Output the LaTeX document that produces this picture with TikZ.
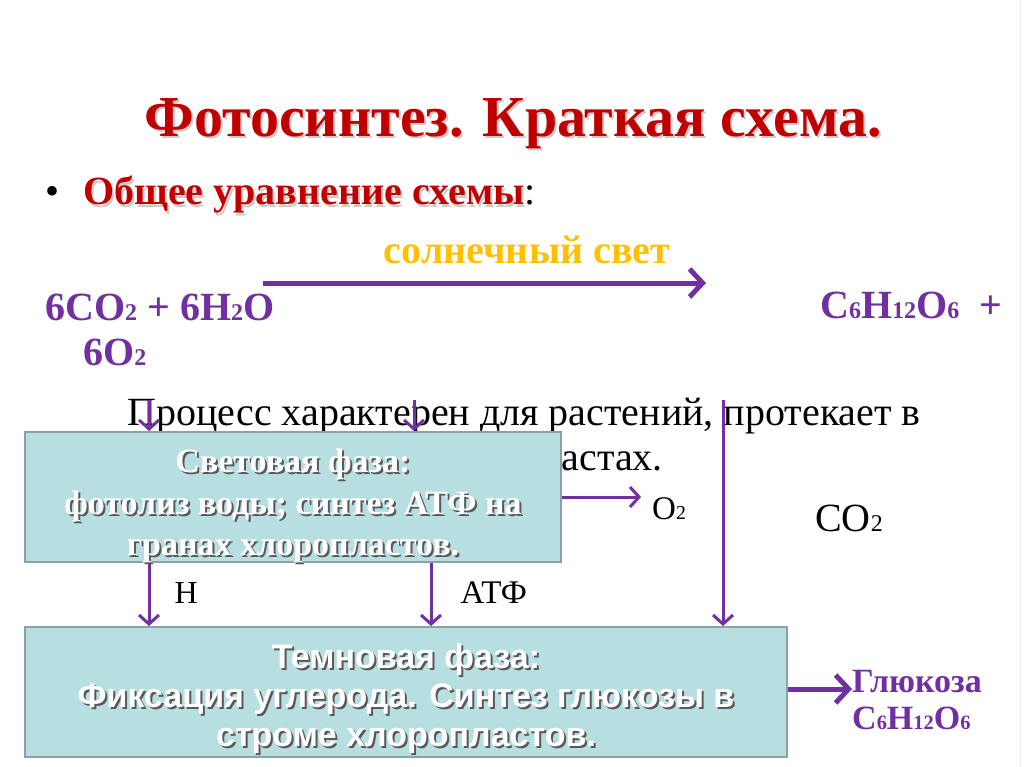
\documentclass[tikz,border=0pt]{standalone}
\usepackage{fontspec}
\setmainfont{Liberation Serif}
\newfontfamily\arialfont{Liberation Sans}
\usetikzlibrary{arrows.meta}
\definecolor{titlered}{RGB}{192,0,0}
\definecolor{eqpurple}{RGB}{112,48,160}
\definecolor{sungold}{RGB}{255,192,0}
\definecolor{phasefill}{RGB}{183,222,225}
\definecolor{phaseedge}{RGB}{140,160,165}
\newcommand\ix[1]{\scalebox{0.6}{#1}}
\newcommand\shd[2]{\leavevmode\rlap{\kern2pt\raisebox{-2pt}{\color{#1}#2}}#2}
\newcommand\fs[1]{\fontsize{#1}{1.2\dimexpr#1pt\relax}\selectfont}
\tikzset{
  arr/.style={draw=eqpurple,line width=3pt,-{Straight Barb[length=9pt,width=20pt]}},
  bigarr/.style={draw=eqpurple,line width=5pt,-{Straight Barb[length=13pt,width=28pt]}},
  eq/.style={text=eqpurple,font=\fs{40}\bfseries,inner sep=0pt,anchor=base west},
  plain/.style={font=\fs{40},inner sep=0pt},
  phase/.style={draw=phaseedge,line width=2pt,fill=phasefill,inner sep=0pt},
  phasetext/.style={align=center,text=white,inner sep=0pt},
}
\begin{document}
\begin{tikzpicture}[x=1pt,y=-1pt]
\useasboundingbox (0,0) rectangle (1024,767);
\draw[gray!15] (1020,0)--(1020,767);
\node[text=titlered,font=\fs{58}\bfseries,inner sep=0pt,anchor=base] (title) at (513,137){\shd{gray!40}{Фотосинтез. Краткая схема.}};
\node[inner sep=0pt,anchor=base west] (dot) at (45,205){\fs{40}•};
\node[text=titlered,font=\fs{40}\bfseries,inner sep=0pt,anchor=base west] (general) at (83,205){\shd{gray!40}{Общее уравнение схемы}{\color{black}\mdseries:}};
\node[text=sungold,font=\fs{40}\bfseries,inner sep=0pt,anchor=base] (sun) at (527,263){солнечный свет};
\coordinate (sunL) at (263,283); \coordinate (sunR) at (706,283);
\draw[bigarr] (sunL)--(sunR);
\node[eq] (react) at (45,320){6CO\ix2 + 6H\ix2O};
\node[eq] (oxy) at (83,365){6O\ix2};
\node[eq] (prod) at (820,318){C\ix6H\ix{12}O\ix6 \ +};
% process text, partly hidden
\node[plain,anchor=base] (proc) at (524,425){Процесс характерен для растений, протекает в};
\node[plain,anchor=base east] (proc2) at (663,470){хлоропластах.};
\node[phase,minimum width=536pt,minimum height=130pt] (light) at (293,497){};
\node[phasetext,font=\fs{34}\bfseries] (lighttxt) at ([yshift=-10pt]light.center)
  {\shd{gray!70!black}{Световая фаза:}\\[1pt]\shd{gray!70!black}{фотолиз воды; синтез АТФ на}\\[1pt]\shd{gray!70!black}{гранах хлоропластов.}};
\node[phase,minimum width=762pt,minimum height=130pt] (dark) at (406,692){};
\node[phasetext,font=\fs{34}\arialfont\bfseries] (darktxt) at ([yshift=-8pt]dark.center)
  {\shd{gray!70!black}{Темновая фаза:}\\[-2pt]\shd{gray!70!black}{Фиксация углерода. Синтез глюкозы в}\\[-2pt]\shd{gray!70!black}{строме хлоропластов.}};
\coordinate (inH) at (149,400); \coordinate (inA) at (414,400); \coordinate (inC) at (723,400);
\draw[arr] (inH)--(inH |- light.north);
\draw[arr] (inA)--(inA |- light.north);
\draw[arr] (inC)--(inC |- dark.north);
\coordinate (hx) at (149,0); \coordinate (ax) at (431,0);
\draw[arr] (hx |- light.south)--(hx |- dark.north) node[pos=.47,right=24pt,font=\fs{32},text=black,inner sep=0pt] (hyd){Н};
\draw[arr] (ax |- light.south)--(ax |- dark.north) node[pos=.47,right=28pt,font=\fs{33},text=black,inner sep=0pt] (atp){АТФ};
\node[font=\fs{33},inner sep=0pt,anchor=base west] (o2) at (652,519){O\ix2};
\coordinate (o2tip) at (641,497);
\draw[arr] (light.east |- o2tip)--(o2tip);
\node[font=\fs{40},inner sep=0pt,anchor=base west] (co2) at (815,531){CO\ix2};
\node[text=eqpurple,font=\fs{34}\bfseries,inner sep=0pt,align=left,anchor=west] (gluc) at (852,700){Глюкоза\\[-4pt]C\ix6H\ix{12}O\ix6};
\draw[bigarr] (dark.east |- 0,689)--(gluc.west |- 0,689);
\end{tikzpicture}
\end{document}
